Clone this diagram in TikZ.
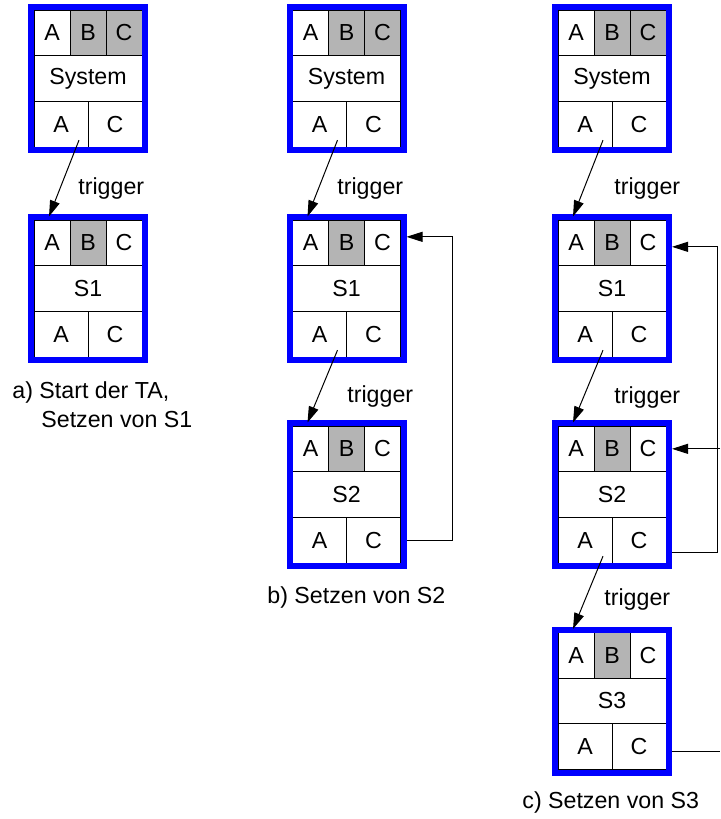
\documentclass[tikz,border=0pt]{standalone}
\usepackage{fontspec}
\setmainfont{Liberation Sans}
\definecolor{lockgray}{HTML}{B4B4B4}
\definecolor{frameblue}{HTML}{0000FF}
\usepackage{tikz}
\usetikzlibrary{calc, arrows.meta}

% one lock table: name, x, y, label, fill of the upper C cell
\newcommand{\lockbox}[5]{%
  \begin{scope}[shift={(#2,#3)}]
    \node[cell] (#1-a) at (-36,-45.67) {A};
    \node[cell, fill=lockgray] (#1-b) at (0,-45.67) {B};
    \node[cell, #5] (#1-c) at (36,-45.67) {C};
    \node[mid] (#1-m) at (0,0) {#4};
    \node[half] (#1-la) at (-27,45.67) {A};
    \node[half] (#1-lc) at (27,45.67) {C};
    \node[frame] (#1) at (0,0) {};
  \end{scope}}

\begin{document}
\begin{tikzpicture}[
  x={(0.5pt,0)}, y={(0,-0.5pt)},
  every node/.style={font=\fontsize{11.6}{14}\selectfont},
  cell/.style={draw=black, line width=0.5pt, inner sep=0pt,
               minimum width=18pt, minimum height=22.83pt},
  half/.style={cell, minimum width=27pt},
  mid/.style={cell, minimum width=54pt},
  frame/.style={draw=frameblue, line width=3pt, inner sep=0pt,
                minimum width=57pt, minimum height=71.5pt},
  trig/.style={-{Triangle[length=8pt, width=5pt]}, line width=0.5pt},
  fb/.style={trig},
  lbl/.style={anchor=base west, inner sep=0pt}
]
\useasboundingbox (0,0) rectangle (720,819);

% a) Start der TA
\lockbox{sa}{88}{78.5}{System}{fill=lockgray}
\lockbox{a1}{88}{288.5}{S1}{fill=white}

% b) Setzen von S2
\lockbox{sb}{346.5}{78.5}{System}{fill=lockgray}
\lockbox{b1}{346.5}{288.5}{S1}{fill=white}
\lockbox{b2}{346.5}{494.5}{S2}{fill=white}

% c) Setzen von S3
\lockbox{sc}{612}{78.5}{System}{fill=lockgray}
\lockbox{c1}{612}{288.5}{S1}{fill=white}
\lockbox{c2}{612}{494.5}{S2}{fill=white}
\lockbox{c3}{612}{701}{S3}{fill=white}

\coordinate (rim) at (720,0);

\draw[trig] ($(sa-la)+(18,16)$) -- ($(a1-a.north)+(-3,-3)$);
\draw[trig] ($(sb-la)+(18,16)$) -- ($(b1-a.north)+(-3,-3)$);
\draw[trig] ($(b1-la)+(18,16)$) -- ($(b2-a.north)+(-3,-3)$);
\draw[trig] ($(sc-la)+(18,16)$) -- ($(c1-a.north)+(-3,-3)$);
\draw[trig] ($(c1-la)+(18,16)$) -- ($(c2-a.north)+(-3,-3)$);
\draw[trig] ($(c2-la)+(18,16)$) -- ($(c3-a.north)+(-3,-3)$);

\draw[fb] (b2.east |- b2-lc) -- ++(46,0) |- ($(b1.east |- b1-c)+(0,-6)$);
\draw[fb] ($(c2.east |- c2-lc)+(0,12)$) -- ++(45,0) |- ($(c1.east |- c1-c)+(0,4)$);
\draw[fb] (rim |- c2-c) -- (c2.east |- c2-c);
\draw[line width=0.5pt] ($(c3.east |- c3-lc)+(0,5)$) -- ($(rim |- c3-lc)+(0,5)$);

\node[lbl] (ta1) at (78,194) {trigger};
\node[lbl] (tb1) at (337,194) {trigger};
\node[lbl] (tb2) at (347,402) {trigger};
\node[lbl] (tc1) at (614,194) {trigger};
\node[lbl] (tc2) at (614,403) {trigger};
\node[lbl] (tc3) at (604,605) {trigger};

\node[lbl] (capa1) at (12,398) {a) Start der TA,};
\node[lbl] (capa2) at (41,427) {Setzen von S1};
\node[lbl] (capb) at (267,603) {b) Setzen von S2};
\node[lbl] (capc) at (522,808) {c) Setzen von S3};
\end{tikzpicture}
\end{document}
